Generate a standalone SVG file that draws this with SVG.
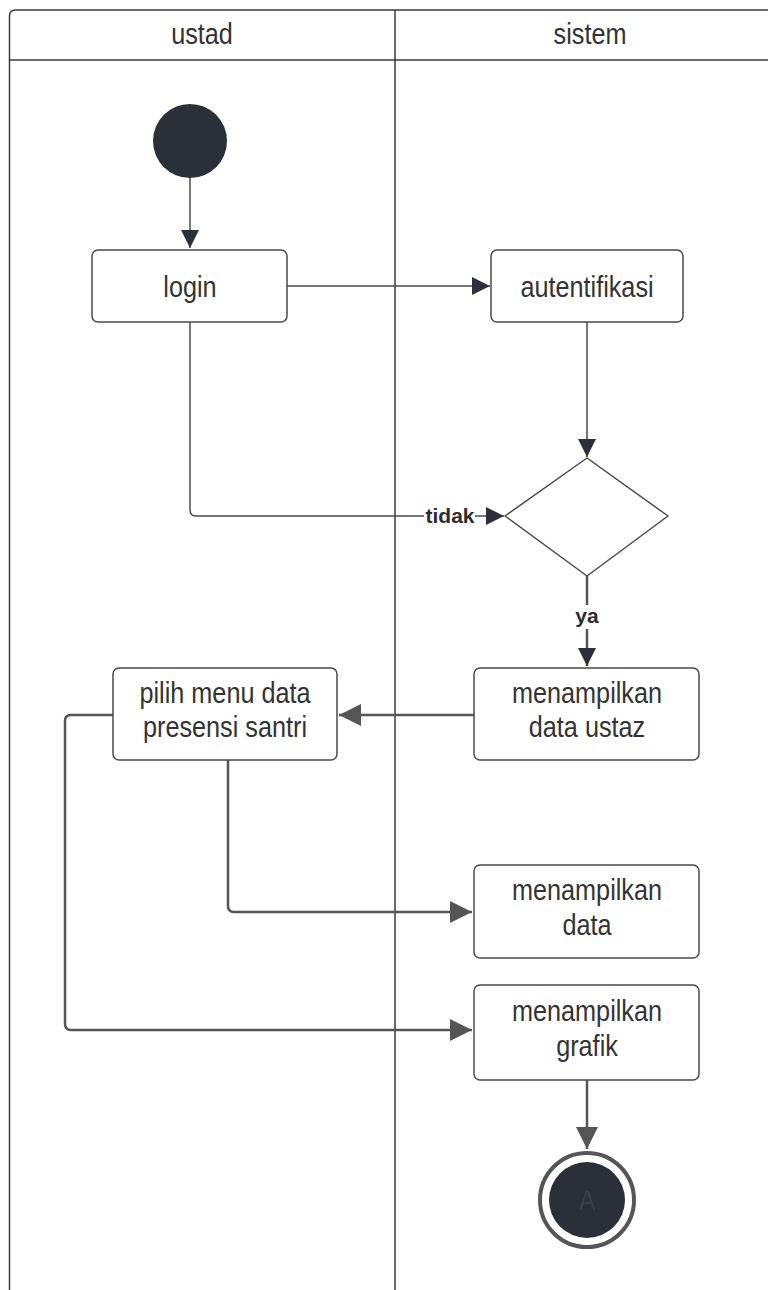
<svg xmlns="http://www.w3.org/2000/svg" width="768" height="1290" viewBox="0 0 768 1290">
<defs>
<style>
.lane{fill:none;stroke:#3a3a3a;stroke-width:1.5}
.box{fill:#fff;stroke:#4a4a4a;stroke-width:1.5}
.t{font-family:"Liberation Sans",Arial,sans-serif;font-size:29px;fill:#333;text-anchor:middle}
.lbl{font-family:"Liberation Sans",Arial,sans-serif;font-size:21px;font-weight:bold;fill:#2b2d33;text-anchor:middle}
.c{fill:none;stroke:#4a4a4a;stroke-width:1.5}
.c2{fill:none;stroke:#555;stroke-width:2.5}
</style>
<marker id="ah" viewBox="0 0 10 10" refX="10" refY="5" markerWidth="18" markerHeight="18" markerUnits="userSpaceOnUse" orient="auto">
<path d="M0,0 L10,5 L0,10 Z" fill="#2d3038"/>
</marker>
<marker id="ah2" viewBox="0 0 10 10" refX="10" refY="5" markerWidth="22" markerHeight="22" markerUnits="userSpaceOnUse" orient="auto">
<path d="M0,0 L10,5 L0,10 Z" fill="#555"/>
</marker>
</defs>
<rect width="768" height="1290" fill="#fff"/>
<g id="lanes">
<path class="lane" d="M9.5,1290 V16 Q9.5,10 15.5,10 H768"/>
<path class="lane" d="M9.5,60 H768"/>
<path class="lane" d="M395,10 V1290"/>
<text class="t" transform="translate(202 44) scale(.87 1)">ustad</text>
<text class="t" transform="translate(590 44) scale(.87 1)">sistem</text>
</g>
<g id="connectors">
<path class="c" d="M190,177 V248" marker-end="url(#ah)"/>
<path class="c" d="M287,286 H490" marker-end="url(#ah)"/>
<path class="c" d="M587,322 V457" marker-end="url(#ah)"/>
<path class="c" d="M190,322 V510 Q190,516 196,516 H504" marker-end="url(#ah)"/>
<rect x="424" y="505" width="51" height="22" fill="#fff"/>
<text class="lbl" x="450" y="523">tidak</text>
<path class="c2" d="M587,576 V666" marker-end="url(#ah)"/>
<rect x="574" y="605" width="26" height="24" fill="#fff"/>
<text class="lbl" x="587" y="623">ya</text>
<path class="c2" d="M474,715 H339" marker-end="url(#ah2)"/>
<path class="c2" d="M228,760 V906 Q228,912 234,912 H472" marker-end="url(#ah2)"/>
<path class="c2" d="M113,715 H71 Q65,715 65,721 V1024 Q65,1030 71,1030 H472" marker-end="url(#ah2)"/>
<path class="c2" d="M587,1080 V1149" marker-end="url(#ah2)"/>
</g>
<g id="start"><circle cx="190" cy="141" r="37" fill="#2b2f37"/></g>
<g id="login">
<rect class="box" x="92" y="250" width="195" height="72" rx="6"/>
<text class="t" transform="translate(190 297) scale(.87 1)">login</text>
</g>
<g id="autentifikasi">
<rect class="box" x="491" y="250" width="192" height="72" rx="6"/>
<text class="t" transform="translate(587 297) scale(.87 1)">autentifikasi</text>
</g>
<g id="decision">
<path class="box" d="M587,458 L668,516 L587,576 L505,516 Z" stroke-linejoin="round"/>
</g>
<g id="tampil-ustaz">
<rect class="box" x="474" y="668" width="225" height="92" rx="6"/>
<text class="t" transform="translate(587 703) scale(.87 1)">menampilkan</text>
<text class="t" transform="translate(587 737) scale(.87 1)">data ustaz</text>
</g>
<g id="pilih-menu">
<rect class="box" x="113" y="668" width="224" height="92" rx="6"/>
<text class="t" transform="translate(225 703) scale(.87 1)">pilih menu data</text>
<text class="t" transform="translate(225 737) scale(.87 1)">presensi santri</text>
</g>
<g id="tampil-data">
<rect class="box" x="474" y="865" width="225" height="93" rx="6"/>
<text class="t" transform="translate(587 900) scale(.87 1)">menampilkan</text>
<text class="t" transform="translate(587 935) scale(.87 1)">data</text>
</g>
<g id="tampil-grafik">
<rect class="box" x="474" y="985" width="225" height="95" rx="6"/>
<text class="t" transform="translate(587 1021) scale(.87 1)">menampilkan</text>
<text class="t" transform="translate(587 1056) scale(.87 1)">grafik</text>
</g>
<g id="end">
<circle cx="587" cy="1200" r="47" fill="#fff" stroke="#555" stroke-width="4"/>
<circle cx="587" cy="1200" r="38" fill="#2b2f37"/>
<text transform="translate(587 1210) scale(.87 1)" font-family="'Liberation Sans',Arial,sans-serif" font-size="28" fill="#3a3e46" text-anchor="middle">A</text>
</g>
</svg>
